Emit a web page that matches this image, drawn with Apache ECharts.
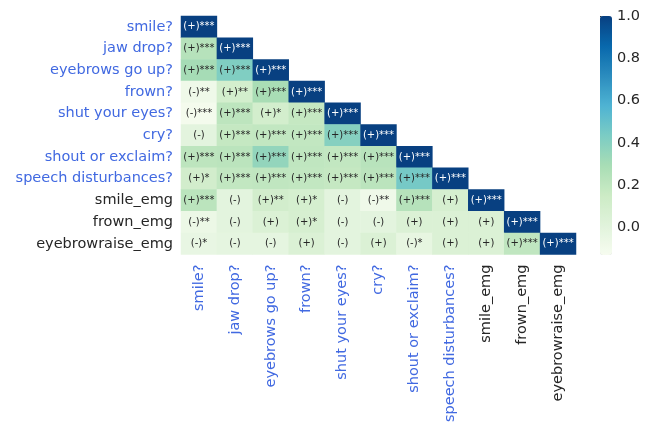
<!DOCTYPE html>
<html>
<head>
<meta charset="utf-8">
<script src="https://cdn.jsdelivr.net/npm/echarts@6/dist/echarts.min.js"></script>
<style>
  html, body { margin: 0; padding: 0; background: #fff; }
  #chart { width: 649px; height: 425px; }
</style>
</head>
<body>
<div id="chart"></div>
<script>
// variables (rows and columns share the same order)
const names = [
  "smile?", "jaw drop?", "eyebrows go up?", "frown?", "shut your eyes?", "cry?",
  "shout or exclaim?", "speech disturbances?", "smile_emg", "frown_emg", "eyebrowraise_emg"
];
// first 8 are survey questions (blue labels), rest are emg
const isQuestion = [true, true, true, true, true, true, true, true, false, false, false];

// lower triangle correlation values, row by row (estimated from colours)
const corr = [
  [1.0],
  [0.24, 1.0],
  [0.30, 0.42, 1.0],
  [-0.08, 0.10, 0.29, 1.0],
  [-0.11, 0.21, 0.10, 0.18, 1.0],
  [-0.01, 0.18, 0.19, 0.19, 0.40, 1.0],
  [0.21, 0.22, 0.36, 0.20, 0.19, 0.23, 1.0],
  [0.11, 0.19, 0.20, 0.19, 0.18, 0.22, 0.45, 1.0],
  [0.22, -0.01, 0.11, 0.09, -0.01, -0.08, 0.24, 0.08, 1.0],
  [-0.06, -0.01, 0.05, 0.08, -0.01, -0.01, 0.05, 0.05, 0.05, 1.0],
  [-0.04, -0.02, -0.02, 0.05, -0.01, 0.05, -0.03, 0.05, 0.05, 0.20, 1.0]
];

// significance annotations
const sig = [
  ["(+)***"],
  ["(+)***", "(+)***"],
  ["(+)***", "(+)***", "(+)***"],
  ["(-)**", "(+)**", "(+)***", "(+)***"],
  ["(-)***", "(+)***", "(+)*", "(+)***", "(+)***"],
  ["(-)", "(+)***", "(+)***", "(+)***", "(+)***", "(+)***"],
  ["(+)***", "(+)***", "(+)***", "(+)***", "(+)***", "(+)***", "(+)***"],
  ["(+)*", "(+)***", "(+)***", "(+)***", "(+)***", "(+)***", "(+)***", "(+)***"],
  ["(+)***", "(-)", "(+)**", "(+)*", "(-)", "(-)**", "(+)***", "(+)", "(+)***"],
  ["(-)**", "(-)", "(+)", "(+)*", "(-)", "(-)", "(+)", "(+)", "(+)", "(+)***"],
  ["(-)*", "(-)", "(-)", "(+)", "(-)", "(+)", "(-)*", "(+)", "(+)", "(+)***", "(+)***"]
];

const cbarTicks = [0, 0.2, 0.4, 0.6, 0.8, 1.0];
const vMin = -0.13, vMax = 1.0;

const gnbu = ['#f7fcf0', '#e0f3db', '#ccebc5', '#a8ddb5', '#7bccc4', '#4eb3d3', '#2b8cbe', '#0868ac', '#084081'];
const font = "'DejaVu Sans', sans-serif";

let cells = [];
corr.forEach((row, i) => {
  row.forEach((v, j) => {
    cells.push({
      value: [j, i, v],
      label: { color: v > 0.6 ? '#ffffff' : '#262626' },
      sig: sig[i][j]
    });
  });
});

const labelColor = (val, idx) => isQuestion[idx] ? '#4169e1' : '#262626';

var myChart = echarts.init(document.getElementById('chart'));
var option = {
  animation: false,
  grid: [
    { left: 181, top: 16, width: 395, height: 239 },
    { left: 600, top: 16, width: 12, height: 239 }
  ],
  xAxis: [
    {
      type: 'category',
      gridIndex: 0,
      data: names,
      axisLine: { show: false },
      axisTick: { show: false },
      splitLine: { show: false },
      axisLabel: {
        rotate: 90,
        margin: 10,
        interval: 0,
        fontFamily: font,
        fontSize: 14.5,
        color: labelColor
      }
    },
    { type: 'value', gridIndex: 1, show: false, min: 0, max: 1 }
  ],
  yAxis: [
    {
      type: 'category',
      gridIndex: 0,
      inverse: true,
      data: names,
      axisLine: { show: false },
      axisTick: { show: false },
      splitLine: { show: false },
      axisLabel: {
        margin: 8,
        interval: 0,
        fontFamily: font,
        fontSize: 14.5,
        color: labelColor
      }
    },
    {
      type: 'value',
      gridIndex: 1,
      position: 'right',
      min: vMin,
      max: vMax,
      axisLine: { show: false },
      splitLine: { show: false },
      axisTick: {
        show: true,
        length: 4,
        customValues: cbarTicks,
        lineStyle: { color: '#262626', width: 1 }
      },
      axisLabel: {
        margin: 5,
        customValues: cbarTicks,
        fontFamily: font,
        fontSize: 14.5,
        color: '#262626',
        formatter: v => v.toFixed(1)
      }
    }
  ],
  visualMap: {
    type: 'continuous',
    seriesIndex: 0,
    min: vMin,
    max: vMax,
    inRange: { color: gnbu },
    show: true,
    calculable: false,
    hoverLink: false,
    text: ['', ''],
    showLabel: false,
    orient: 'vertical',
    left: 600,
    top: 16,
    padding: 0,
    itemWidth: 12,
    itemHeight: 239,
    borderRadius: 0
  },
  series: [
    {
      type: 'heatmap',
      xAxisIndex: 0,
      yAxisIndex: 0,
      data: cells,
      itemStyle: { borderWidth: 0 },
      label: {
        show: true,
        fontFamily: font,
        fontSize: 10,
        formatter: p => p.data.sig
      },
      emphasis: { disabled: true }
    }
  ]
};
myChart.setOption(option);
</script>
</body>
</html>
